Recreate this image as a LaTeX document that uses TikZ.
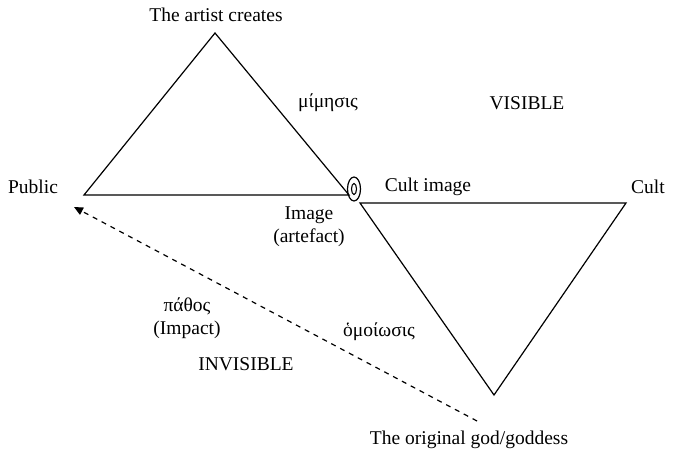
\documentclass[tikz,border=0pt]{standalone}
\usepackage{fontspec}
\setmainfont{Liberation Serif}
\usetikzlibrary{arrows.meta,shapes.geometric}
\begin{document}
\begin{tikzpicture}[x=1pt,y=-1pt,
  lbl/.style={font=\fontsize{19.5}{22}\selectfont, inner sep=0pt, align=center},
  edge/.style={line width=1.2pt, line join=miter},
  dashline/.style={line width=1.2pt, dash pattern=on 5pt off 5pt}]
\useasboundingbox (0,0) rectangle (674,460);
% left triangle
\coordinate (apex) at (215,33);
\coordinate (lv) at (84,195);
\coordinate (rv) at (349,195);
\draw[edge] (lv) -- (apex) -- (rv) -- cycle;
% link
\node[draw, line width=1.2pt, ellipse, minimum width=13pt, minimum height=24pt, inner sep=0pt] (ring) at (354,189) {};
\node[draw, line width=1.1pt, ellipse, minimum width=5pt, minimum height=11pt, inner sep=0pt] (ringin) at (354,189) {};
% right triangle
\coordinate (tl) at (360,203);
\coordinate (tr) at (626,203);
\coordinate (bot) at (494,395);
\draw[edge] (tl) -- (tr) -- (bot) -- cycle;
% dashed arrow
\coordinate (dstart) at (477,421);
\coordinate (dend) at (74,207);
\draw[dashline, -{Triangle[length=9pt,width=8pt]}] (dstart) -- (dend);
% labels
\node[lbl] (t1) at (216,15) {The artist creates};
\node[lbl] (t2) at (328,103) {μίμησις};
\node[lbl] (t3) at (527,103) {VISIBLE};
\node[lbl] (t4) at (33,187) {Public};
\node[lbl] (t5) at (428,187) {Cult image};
\node[lbl] (t6) at (648,187) {Cult};
\node[lbl] (t7) at (309,227) {Image\\[1pt](artefact)};
\node[lbl] (t8) at (187,318) {πάθος\\[1pt](Impact)};
\node[lbl] (t9) at (379,332) {ὁμοίωσις};
\node[lbl] (t10) at (246,364) {INVISIBLE};
\node[lbl] (t11) at (469,440) {The original god/goddess};
\end{tikzpicture}
\end{document}
